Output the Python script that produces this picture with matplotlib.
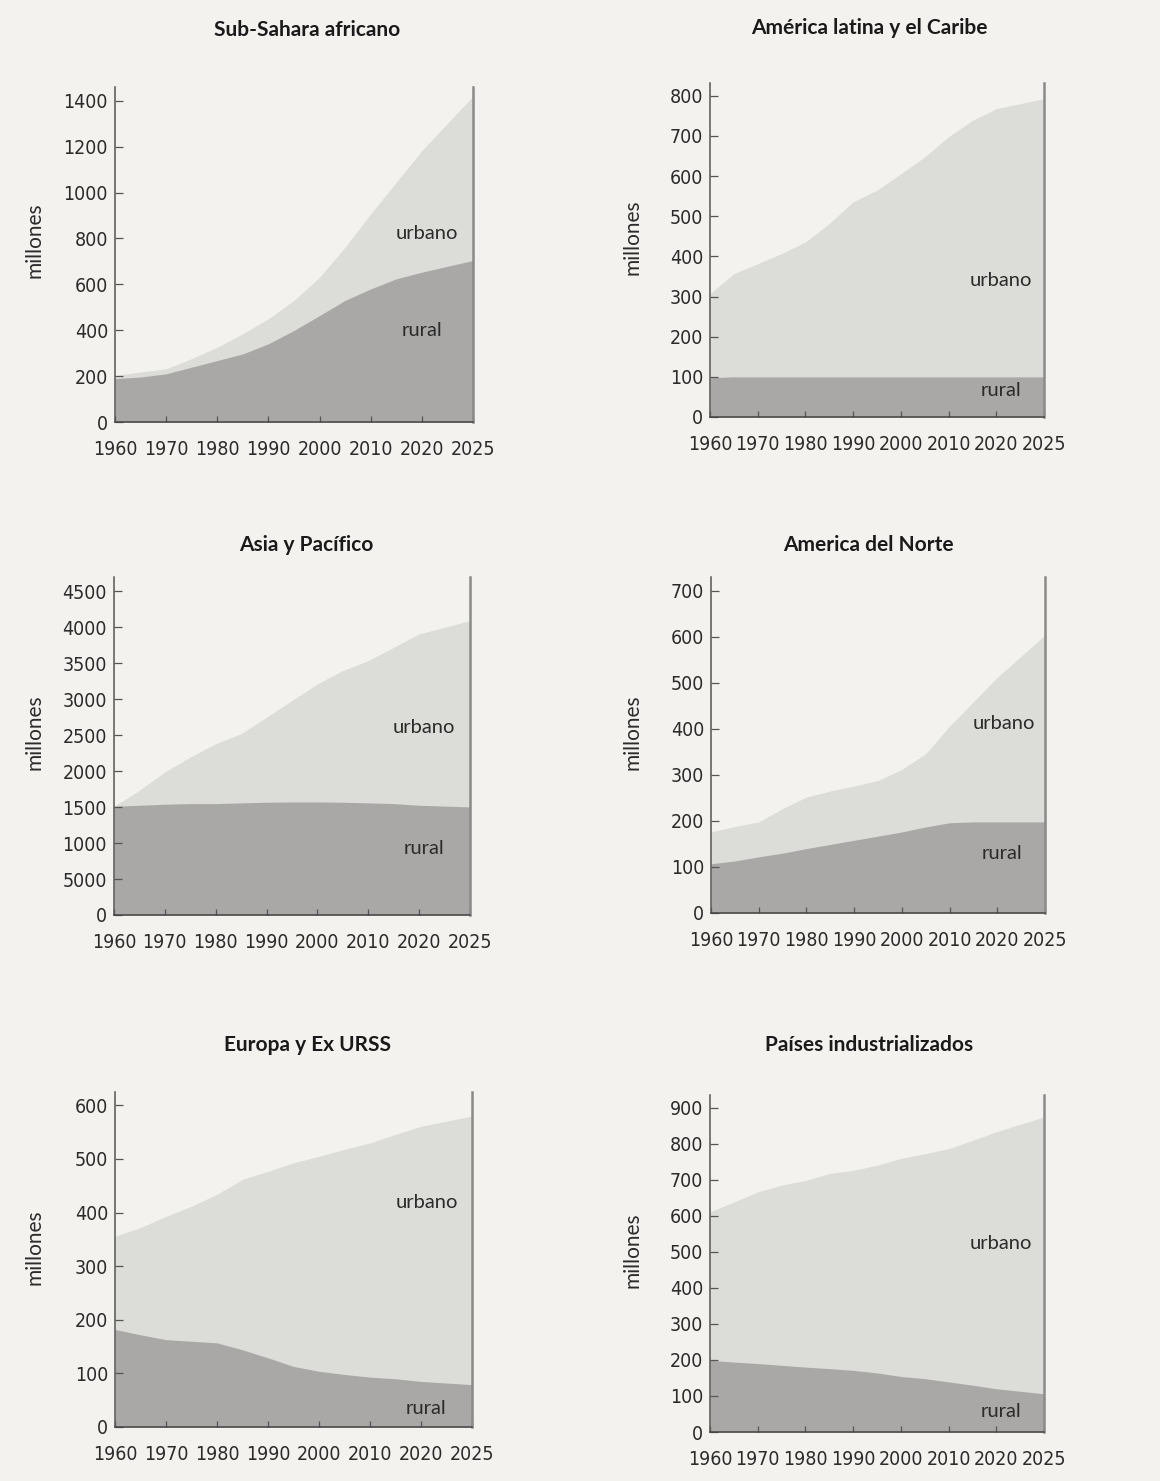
"""Población rural y urbana por región, 1960-2025 (áreas apiladas)."""

import matplotlib

matplotlib.use("Agg")
import matplotlib.pyplot as plt
import numpy as np

W_PX, H_PX, DPI = 1160, 1481, 100

BG = "#f3f2ef"
URBAN_COLOR = "#dcdcd8"
RURAL_COLOR = "#a9a8a6"
INK = "#2b2b2b"

TITLE_FONT = ["Lato", "DejaVu Sans"]
TICK_FONT = ["DejaVu Sans"]

# 2020 -> 2025 is drawn with the same spacing as one decade
YEARS = [1960, 1965, 1970, 1975, 1980, 1985, 1990, 1995, 2000, 2005, 2010, 2015, 2020, 2025]
TICK_YEARS = [1960, 1970, 1980, 1990, 2000, 2010, 2020, 2025]

# totals (rural + urbano) and rural, millones
ssa_total = [203, 218, 232, 276, 326, 385, 450, 530, 631, 762, 907, 1045, 1183, 1420]
ssa_rural = [189, 196, 210, 239, 268, 297, 341, 399, 464, 530, 580, 624, 653, 704]

lac_total = [307, 357, 382, 407, 436, 482, 536, 565, 606, 648, 698, 739, 768, 793]
lac_rural = [98, 100, 100, 100, 100, 100, 100, 100, 100, 100, 100, 100, 100, 100]

asia_total = [1512, 1734, 1989, 2197, 2382, 2521, 2752, 2983, 3214, 3399, 3538, 3723, 3908, 4093]
asia_rural = [1512, 1526, 1540, 1549, 1549, 1559, 1568, 1572, 1572, 1568, 1559, 1549, 1526, 1503]

nam_total = [176, 188, 198, 227, 252, 265, 276, 288, 312, 346, 406, 459, 512, 604]
nam_rural = [107, 113, 122, 130, 140, 149, 158, 167, 176, 187, 196, 198, 198, 198]

eur_total = [356, 372, 393, 412, 434, 462, 477, 493, 505, 518, 530, 546, 561, 580]
eur_rural = [182, 172, 163, 160, 157, 144, 129, 113, 104, 98, 93, 90, 85, 79]

ind_total = [611, 638, 666, 685, 698, 717, 726, 740, 759, 772, 786, 809, 833, 874]
ind_rural = [199, 194, 190, 185, 180, 176, 171, 164, 154, 148, 139, 130, 120, 106]

TITLES = [
    "Sub-Sahara africano", "América latina y el Caribe",
    "Asia y Pacífico", "America del Norte",
    "Europa y Ex URSS", "Países industrializados",
]
Y_TICKS = [
    [0, 200, 400, 600, 800, 1000, 1200, 1400],
    [0, 100, 200, 300, 400, 500, 600, 700, 800],
    [0, 500, 1000, 1500, 2000, 2500, 3000, 3500, 4000, 4500],
    [0, 100, 200, 300, 400, 500, 600, 700],
    [0, 100, 200, 300, 400, 500, 600],
    [0, 100, 200, 300, 400, 500, 600, 700, 800, 900],
]
# the 500 mark on the Asia axis is printed as "5000"
Y_TICK_LABELS = [
    None, None,
    ["0", "5000", "1000", "1500", "2000", "2500", "3000", "3500", "4000", "4500"],
    None, None, None,
]
Y_MAX = [1460, 832, 4700, 730, 625, 935]
# (year-slot position, value) of the "urbano" / "rural" captions
URBAN_LABEL = [(6.1, 822), (6.1, 341), (6.1, 2613), (6.13, 412), (6.11, 419), (6.1, 524)]
RURAL_LABEL = [(6.0, 400), (6.1, 66), (6.1, 925), (6.1, 129), (6.1, 35), (6.1, 56)]

SERIES = [
    (ssa_total, ssa_rural), (lac_total, lac_rural),
    (asia_total, asia_rural), (nam_total, nam_rural),
    (eur_total, eur_rural), (ind_total, ind_rural),
]

# axes boxes in pixels: left, top, width, height
AX_BOX = [
    (115, 87, 358, 335), (710, 83, 334, 334),
    (114, 577, 356, 338), (711, 577, 334, 336),
    (115, 1092, 357, 335), (710, 1095, 334, 337),
]
TITLE_POS = [(307, 30), (869, 28), (306, 545), (868, 545), (307, 1045), (869, 1045)]
YLABEL_POS = [(35, 240), (633, 237), (35, 732), (633, 732), (35, 1247), (633, 1250)]


def year_pos(years):
    years = np.asarray(years, dtype=float)
    return np.where(years <= 2020, (years - 1960) / 10, 6 + (years - 2020) / 5)


def draw_panel(fig, i):
    left, top, w, h = AX_BOX[i]
    ax = fig.add_axes([left / W_PX, 1 - (top + h) / H_PX, w / W_PX, h / H_PX])
    ax.set_facecolor(BG)

    total, rural = (np.asarray(s, dtype=float) for s in SERIES[i])
    x = year_pos(YEARS)
    ax.fill_between(x, 0, total, color=URBAN_COLOR, linewidth=0)
    ax.fill_between(x, 0, rural, color=RURAL_COLOR, linewidth=0)

    ax.set_xlim(0, 7)
    ax.set_ylim(0, Y_MAX[i])

    ax.set_xticks(year_pos(TICK_YEARS))
    ax.set_xticklabels([str(y) for y in TICK_YEARS])
    ax.set_yticks(Y_TICKS[i])
    if Y_TICK_LABELS[i] is not None:
        ax.set_yticklabels(Y_TICK_LABELS[i])

    ax.tick_params(axis="y", direction="in", length=6, width=0.9, color="#555555",
                   pad=5, labelsize=14, labelcolor=INK)
    ax.tick_params(axis="x", direction="in", length=4, width=0.9, color="#555555",
                   pad=13, labelsize=14, labelcolor=INK)
    for lbl in ax.get_xticklabels() + ax.get_yticklabels():
        lbl.set_family(TICK_FONT)
        lbl.set_stretch("condensed")

    ax.spines["top"].set_visible(False)
    ax.spines["left"].set_color("#555555")
    ax.spines["left"].set_linewidth(1.1)
    ax.spines["bottom"].set_color("#444444")
    ax.spines["bottom"].set_linewidth(1.1)
    ax.spines["right"].set_color("#8a8a8a")
    ax.spines["right"].set_linewidth(1.8)

    ux, uy = URBAN_LABEL[i]
    rx, ry = RURAL_LABEL[i]
    ax.text(ux, uy, "urbano", ha="center", va="center", fontsize=14.5,
            family=TITLE_FONT, color=INK)
    ax.text(rx, ry, "rural", ha="center", va="center", fontsize=14.5,
            family=TITLE_FONT, color=INK)

    tx, ty = TITLE_POS[i]
    fig.text(tx / W_PX, 1 - ty / H_PX, TITLES[i], ha="center", va="center",
             fontsize=15, fontweight="bold", family=TITLE_FONT, color="#1a1a1a")
    lx, ly = YLABEL_POS[i]
    fig.text(lx / W_PX, 1 - ly / H_PX, "millones", ha="center", va="center",
             rotation=90, fontsize=15, family=TITLE_FONT, color=INK)


def main():
    fig = plt.figure(figsize=(W_PX / DPI, H_PX / DPI), dpi=DPI, facecolor=BG)
    for i in range(len(TITLES)):
        draw_panel(fig, i)
    fig.savefig("out.png", dpi=DPI, facecolor=BG)


if __name__ == "__main__":
    main()
